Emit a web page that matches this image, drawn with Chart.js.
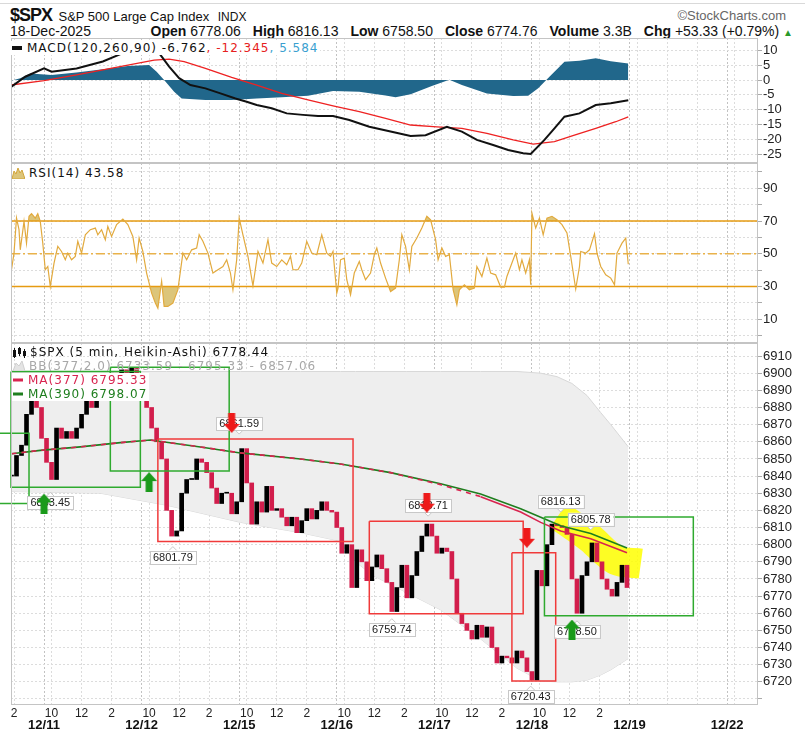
<!DOCTYPE html>
<html>
<head>
<meta charset="utf-8">
<title>$SPX S&amp;P 500 Large Cap Index</title>
<script src="https://cdn.jsdelivr.net/npm/chart.js@4.4.1/dist/chart.umd.min.js"></script>
<style>
  html, body { margin: 0; padding: 0; background: #fff; }
  body { position: relative; width: 805px; height: 732px; overflow: hidden; font-family: 'Liberation Sans', Arial, sans-serif; color: #111; }
  canvas { position: absolute; left: 0; }
  .abs { position: absolute; white-space: nowrap; }
  .leg { position: absolute; white-space: nowrap; font: 12px 'DejaVu Sans', sans-serif; letter-spacing: 1px; line-height: 14px; height: 14px; display: flex; align-items: center; }
  .leg svg { margin-right: 4px; }
  .topline { position: absolute; left: 0; top: 3px; width: 805px; border-top: 1px solid #d9d9d9; }
  .row2 .g { margin-left: 12px; }
</style>
</head>
<body>
<div class="topline"></div>

<!-- header -->
<div class="abs" style="left:10px;top:5px;line-height:19px;">
  <span style="font:bold 18px 'Liberation Sans',sans-serif;letter-spacing:-1px;">$SPX</span>
  <span style="font-size:13px;margin-left:2px;">S&amp;P 500 Large Cap Index</span>
  <span style="font-size:12px;margin-left:4px;">INDX</span>
</div>
<div class="abs" style="right:19px;top:8px;font-size:13px;color:#666;">&copy;StockCharts.com</div>
<div class="abs" style="left:10px;top:23px;font-size:14px;">18-Dec-2025</div>
<div class="abs row2" style="right:12px;top:23px;font-size:14px;">
  <span><b>Open</b> 6778.06</span><span class="g"><b>High</b> 6816.13</span><span class="g"><b>Low</b> 6758.50</span><span class="g"><b>Close</b> 6774.76</span><span class="g"><b>Volume</b> 3.3B</span><span class="g"><b>Chg</b> +53.33 (+0.79%)</span> <span style="color:#2a9a2a;font-size:10px;">&#9650;</span>
</div>

<canvas id="macd" width="805" height="125" style="top:38px"></canvas>
<canvas id="rsi" width="805" height="180" style="top:163px"></canvas>
<canvas id="price" width="805" height="389" style="top:343px"></canvas>

<!-- panel legends -->
<div class="leg" style="left:11px;top:41px;background:#fff;padding-right:2px;">
  <svg width="12" height="6"><rect x="1" y="1" width="10" height="4" fill="#111"/></svg>
  <span>MACD(120,260,90) -6.762</span><span style="color:#e62020">, -12.345</span><span style="color:#3a9fd0">, 5.584</span>
</div>
<div class="leg" style="left:12px;top:166px;background:#fff;padding-right:2px;">
  <svg width="13" height="11"><polygon points="0,11 2,3 4,6 6,0 8,5 10,2 13,11" fill="#dcc57a" stroke="#d3a53a" stroke-width="1"/></svg>
  <span>RSI(14) 43.58</span>
</div>
<div class="leg" style="left:13px;top:345px;">
  <svg width="13" height="11"><rect x="0" y="3" width="3" height="7" fill="#111"/><rect x="1" y="1" width="1" height="10" fill="#111"/><rect x="5" y="1" width="3" height="6" fill="#111"/><rect x="6" y="0" width="1" height="9" fill="#111"/><rect x="10" y="4" width="3" height="5" fill="#111"/><rect x="11" y="2" width="1" height="9" fill="#111"/></svg>
  <span>$SPX (5 min, Heikin-Ashi) 6778.44</span>
</div>
<div class="leg" style="left:13px;top:359px;color:#a8a8a8;">
  <svg width="12" height="10"><polygon points="0,10 3,2 6,5 9,0 12,10" fill="#e4e4e4" stroke="#cfcfcf" stroke-width="1"/></svg>
  <span>BB(377,2.0) 6733.59 - 6795.33 - 6857.06</span>
</div>
<div class="leg" style="left:12px;top:373px;background:#fff;color:#d8244f;padding-right:2px;">
  <svg width="12" height="6"><rect x="1" y="1.5" width="10" height="3" fill="#d8244f"/></svg>
  <span>MA(377) 6795.33</span>
</div>
<div class="leg" style="left:12px;top:387px;background:#fff;color:#1e7e1e;padding-right:2px;">
  <svg width="12" height="6"><rect x="1" y="1.5" width="10" height="3" fill="#1e7e1e"/></svg>
  <span>MA(390) 6798.07</span>
</div>

<script>
// ---- time axis (5-minute bars, 78 per session, 0 = 12/11 open) ----
const dayStarts = [-78, 0, 78, 156, 234, 312, 390, 468, 546];
const dayNames = ['12/10', '12/11', '12/12', '12/15', '12/16', '12/17', '12/18', '12/19', '12/22'];
const hourOffsets = [6, 30, 54];
const hourNames = ['10', '12', '2'];
const lastBar = 468;
const xMin = -26.4;
const xMax = 570.7;

// ---- price (Heikin-Ashi closes, every 4th bar) ----
const priceStart = -26;
const priceStep = 4;
const priceClose = [
  6840, 6852, 6858, 6876, 6893, 6880, 6862, 6848, 6838, 6868,
  6862, 6866, 6862, 6868, 6876, 6885, 6880, 6886, 6890, 6895,
  6900, 6898, 6902, 6899, 6903, 6897, 6893, 6880, 6868, 6860,
  6850, 6820, 6805, 6808, 6830, 6838, 6838, 6850, 6848, 6842,
  6833, 6824, 6830, 6830, 6818, 6825, 6856, 6836, 6812, 6825,
  6819, 6834, 6820, 6821, 6816, 6811, 6816, 6807, 6814, 6821,
  6815, 6820, 6825, 6820, 6819, 6810, 6795, 6800, 6775, 6797,
  6790, 6779, 6787, 6794, 6786, 6778, 6761, 6775, 6788, 6769,
  6782, 6796, 6805, 6812, 6805, 6795, 6798, 6796, 6780, 6760,
  6754, 6750, 6745, 6753, 6746, 6752, 6740, 6731, 6735, 6734,
  6731, 6738, 6734, 6726, 6721, 6785, 6776, 6800, 6812, 6811,
  6810, 6806, 6780, 6760, 6782, 6790, 6801, 6790, 6780, 6774,
  6770, 6778, 6788, 6775
];

// ---- overlays ----
const maX = [-26, -3, 29, 61, 85, 125, 157, 205, 237, 277, 317, 349, 381, 397, 413, 437, 466];
const ma377 = [6853, 6855, 6857, 6859.5, 6861, 6857, 6853.5, 6850, 6847, 6842, 6835, 6828, 6819, 6813, 6808, 6803.5, 6795.33];
const ma390 = [6853, 6855, 6857, 6859.5, 6861, 6857, 6853.5, 6850, 6847, 6842, 6835.5, 6829.5, 6821, 6816, 6811, 6806.5, 6798.07];
const maSplit = 349;

const bbX = [-26, 45, 98, 157, 205, 237, 249, 263, 290, 317, 349, 378, 397, 410, 422, 434, 445, 453, 467];
const bbUpper = [6900.5, 6901, 6901, 6901, 6901, 6901, 6901, 6901, 6901, 6901, 6901, 6901, 6900, 6898, 6894, 6887, 6877, 6870, 6857.06];
const bbLower = [6831, 6830, 6823, 6813, 6807, 6802, 6790, 6782, 6772, 6762, 6745, 6728, 6720.5, 6720, 6720, 6721, 6724, 6727, 6733.59];

const highlightX = [411, 425, 437, 457, 477];
const highlightY = [6817, 6810, 6803.5, 6791, 6789];

const greenBoxLeft = [-40, -26.4, 53, 400];
const greenBoxRight = [-12, 77, 148, 519];
const greenBoxTop = [6865, 6901, 6903.5, 6816.13];
const greenBoxBottom = [6824, 6833.45, 6843, 6758.5];
const redBoxLeft = [91, 260, 374];
const redBoxRight = [247, 383, 409];
const redBoxTop = [6861.59, 6813.71, 6795.3];
const redBoxBottom = [6801.79, 6759.74, 6720.43];

const upArrowX = [0, 84, 422];
const upArrowY = [6824, 6836.5, 6750.5];
const downArrowX = [150, 306, 386];
const downArrowY = [6871, 6824.5, 6804];

const markX = [5, 156, 103, 307, 278, 389, 413, 437, 426];
const markPrice = [6833.45, 6861.59, 6801.79, 6813.71, 6759.74, 6720.43, 6816.13, 6805.78, 6758.50];
const markText = ['6833.45', '6861.59', '6801.79', '6813.71', '6759.74', '6720.43', '6816.13', '6805.78', '6758.50'];
const markBelow = [true, false, true, false, true, true, false, false, true];

// ---- MACD(120,260,90) ----
const macdX = [-27, -15, 0, 6, 26, 47, 63, 76, 92, 100, 108, 117, 129, 141, 153, 162, 170, 182, 194, 207, 219, 231, 244, 260, 277, 293, 305, 322, 334, 346, 359, 371, 383, 389, 400, 408, 416, 428, 441, 453, 467];
const macdLine = [-2.5, 1.1, 3.9, 2.8, 3.9, 6.2, 9.0, 11.5, 9.0, 4.5, 0.6, -1.7, -2.8, -4.5, -6.2, -7.3, -8.4, -9.5, -11.2, -11.7, -12.1, -12.1, -13.4, -15.7, -17.3, -18.8, -18.5, -15.7, -17.3, -20.1, -21.8, -23.5, -24.6, -24.8, -20.1, -16.2, -12.3, -11.2, -8.4, -7.8, -6.762];
const signalX = [-27, 0, 26, 47, 67, 88, 100, 112, 129, 150, 170, 190, 211, 231, 252, 273, 293, 314, 334, 354, 375, 391, 408, 424, 441, 457, 467];
const signalLine = [-1.7, -0.2, 1.7, 3.4, 5.0, 6.7, 7.0, 6.2, 3.9, 0.9, -1.7, -4.5, -6.7, -8.7, -10.6, -12.9, -15.1, -15.7, -16.2, -17.9, -20.1, -21.5, -20.7, -18.5, -16.2, -14.0, -12.345];
const histX = [-27, -19, -11, 6, 26, 47, 67, 84, 90, 96, 104, 110, 129, 150, 170, 190, 211, 231, 252, 273, 281, 293, 310, 324, 334, 354, 375, 387, 395, 404, 416, 428, 441, 453, 467];
const histValues = [-0.3, 0.6, 2.2, 1.7, 2.5, 3.6, 4.7, 5.0, 2.8, 0, -3.9, -6.2, -6.7, -6.7, -6.2, -5.8, -5.3, -3.7, -3.9, -5.2, -5.8, -4.8, -2.0, 0.1, -1.7, -4.5, -5.4, -5.3, -2.8, 1.1, 6.1, 6.5, 7.3, 6.3, 5.584];
const macdTicks = [-25, -20, -15, -10, -5, 0, 5, 10];

// ---- RSI(14) ----
const rsiX = [
  -26, -24, -22, -20, -19, -16, -14, -12, -10, -7,
  -5, -3, -1, 1, 3, 5, 8, 11, 14, 17,
  19, 22, 25, 27, 30, 33, 37, 41, 43, 46,
  49, 51, 54, 58, 63, 67, 71, 74, 76, 79,
  82, 86, 89, 91, 94, 96, 99, 103, 107, 111,
  114, 118, 122, 124, 127, 131, 135, 139, 143, 146,
  149, 151, 154, 156, 159, 163, 167, 171, 175, 179,
  182, 186, 190, 194, 197, 199, 203, 206, 210, 214,
  218, 222, 226, 229, 231, 234, 235, 237, 240, 242,
  245, 248, 252, 254, 257, 261, 264, 266, 269, 273,
  277, 281, 284, 286, 289, 292, 294, 298, 302, 306,
  309, 313, 315, 318, 321, 324, 327, 330, 332, 336,
  340, 344, 346, 350, 354, 357, 361, 365, 368, 370,
  374, 377, 380, 382, 385, 388, 389, 390, 393, 396,
  399, 402, 406, 410, 414, 418, 421, 425, 428, 429,
  433, 436, 440, 442, 445, 449, 453, 456, 458, 462,
  465, 467
];
const rsiValues = [
  40.2, 50.4, 71.8, 64.7, 52.4, 69.8, 56.5, 72.9, 74.5, 71.8,
  74.5, 69.8, 56.5, 40.2, 42.2, 30.0, 44.3, 54.5, 51.4, 46.3,
  50.4, 46.3, 48.4, 57.6, 50.4, 61.6, 64.7, 65.7, 61.6, 64.7,
  58.6, 66.7, 60.6, 67.8, 71.2, 67.8, 60.6, 46.3, 59.6, 51.4,
  38.2, 25.9, 19.8, 16.7, 33.1, 17.8, 17.8, 19.8, 28.0, 50.4,
  46.3, 52.4, 53.5, 61.6, 57.6, 50.4, 38.2, 40.2, 42.2, 46.3,
  38.2, 28.0, 46.3, 71.8, 61.6, 48.4, 30.4, 51.4, 44.3, 58.6,
  44.3, 42.2, 46.3, 43.3, 48.4, 40.2, 40.2, 44.3, 57.6, 50.4,
  49.4, 61.6, 50.4, 48.4, 51.4, 25.9, 29.0, 46.3, 47.3, 34.1,
  24.9, 38.2, 45.3, 40.2, 34.1, 38.2, 49.4, 53.5, 44.3, 35.1,
  26.9, 29.0, 46.3, 61.6, 54.5, 40.2, 54.5, 59.6, 65.7, 72.9,
  70.8, 58.6, 46.3, 53.5, 48.4, 49.4, 28.0, 18.8, 28.0, 31.0,
  28.0, 29.0, 42.2, 36.1, 47.3, 38.2, 37.1, 29.6, 29.6, 36.1,
  44.3, 50.4, 40.2, 46.3, 38.2, 46.3, 31.0, 74.9, 65.7, 71.8,
  61.6, 71.8, 72.9, 70.8, 67.8, 62.7, 48.4, 28.4, 42.2, 51.4,
  50.4, 52.4, 62.2, 50.4, 42.2, 37.1, 35.1, 31.0, 50.4, 56.5,
  59.6, 43.58
];
const rsiLevels = [70, 50, 30];
const rsiTicks = [0, 10, 20, 30, 40, 50, 60, 70, 80, 90, 100];
const rsiLabels = [10, 30, 50, 70, 90];

// ---- price axis ----
const priceTicks = [6710, 6720, 6730, 6740, 6750, 6760, 6770, 6780, 6790, 6800, 6810,
                    6820, 6830, 6840, 6850, 6860, 6870, 6880, 6890, 6900, 6910];
const priceHidden = [6710];

// ---- look ----
const gridColor = '#dcdcdc';
const dayColor = '#c2c2c2';
const upColor = '#000000';
const downColor = '#d21e4c';
const khaki = '#dcc57a';
const plotLeft = 11;
const axisWidth = 47;

Chart.defaults.font.family = "'Liberation Sans', Arial, sans-serif";

const pts = (xs, ys) => xs.map((x, i) => ({ x: x, y: ys[i] }));

function xTickValues() {
    const t = [];
    dayStarts.forEach(d => {
        t.push(d);
        hourOffsets.forEach(h => t.push(d + h));
    });
    return t.filter(v => v >= xMin && v <= xMax);
}

function hourLabel(v) {
    if (v >= lastBar) return '';
    for (let i = 0; i < dayStarts.length; i++) {
        const k = hourOffsets.indexOf(v - dayStarts[i]);
        if (k >= 0) return hourNames[k];
    }
    return '';
}

// no extra room for overflowing labels: plot areas must line up exactly
function noPadding(s) {
    s.paddingTop = 0;
    s.paddingBottom = 0;
    s.paddingLeft = 0;
    s.paddingRight = 0;
}

function xAxis(withLabels) {
    return {
        type: 'linear', min: xMin, max: xMax, offset: false,
        afterBuildTicks: s => { s.ticks = xTickValues().map(v => ({ value: v })); },
        grid: { drawTicks: false, offset: false, color: c => (c.tick && dayStarts.includes(c.tick.value)) ? dayColor : gridColor },
        border: { display: false, dash: [2, 2] },
        ticks: { display: withLabels, autoSkip: false, maxRotation: 0, padding: 1, color: '#222', font: { size: 12 }, callback: v => hourLabel(v) },
        afterFit: s => { s.height = withLabels ? 12 : 0; noPadding(s); }
    };
}

function dateAxis() {
    return {
        type: 'linear', position: 'bottom', min: xMin, max: xMax, offset: false,
        afterBuildTicks: s => { s.ticks = dayStarts.filter(v => v >= xMin && v <= xMax).map(v => ({ value: v })); },
        grid: { display: false, drawTicks: false },
        border: { display: false },
        ticks: { autoSkip: false, maxRotation: 0, padding: 1, color: '#111', font: { size: 13, weight: 'bold' }, callback: v => dayNames[dayStarts.indexOf(v)] },
        afterFit: s => { s.height = 15; noPadding(s); }
    };
}

function yAxis(min, max, tickValues, labelFn) {
    return {
        position: 'right', min: min, max: max,
        afterBuildTicks: s => { s.ticks = tickValues.map(v => ({ value: v })); },
        grid: { color: gridColor, tickLength: 4, tickColor: '#aaa' },
        border: { display: false, dash: [2, 2] },
        ticks: { autoSkip: false, padding: 1, color: '#222', font: { size: 13 }, callback: labelFn },
        afterFit: s => { s.width = axisWidth; noPadding(s); }
    };
}

function baseOptions(scales) {
    return {
        responsive: false, animation: false, devicePixelRatio: 1, events: [],
        layout: { autoPadding: false, padding: { left: plotLeft, right: 0, top: 0, bottom: 0 } },
        plugins: { legend: { display: false }, tooltip: { enabled: false } },
        elements: { point: { radius: 0 }, line: { tension: 0 } },
        scales: scales
    };
}

// Panel frame round each plot area
const framePlugin = {
    id: 'frame',
    afterDraw(chart) {
        const { ctx, chartArea: a } = chart;
        ctx.save();
        ctx.strokeStyle = '#c4c4c4';
        ctx.lineWidth = 1;
        ctx.strokeRect(a.left + 0.5, a.top + 0.5, a.right - a.left - 1, a.bottom - a.top - 1);
        ctx.restore();
    }
};

// Value tags at swing highs/lows, drawn just before the arrows
const markPlugin = {
    id: 'marks',
    beforeDatasetsDraw(chart) { chart.$marksDone = false; },
    beforeDatasetDraw(chart, args) {
        const ds = chart.data.datasets[args.index];
        if (!ds.isArrow || chart.$marksDone) return;
        chart.$marksDone = true;
        const { ctx, scales: { x, y } } = chart;
        ctx.save();
        ctx.font = "11px 'Liberation Sans', Arial, sans-serif";
        ctx.textAlign = 'center';
        ctx.textBaseline = 'middle';
        markText.forEach((t, i) => {
            const px = x.getPixelForValue(markX[i]);
            const py = y.getPixelForValue(markPrice[i]);
            const w = ctx.measureText(t).width + 6;
            const h = 13;
            const cy = markBelow[i] ? py + 9 + h / 2 : py - 9 - h / 2;
            // small pointer
            ctx.fillStyle = '#fff';
            ctx.strokeStyle = '#c8c8c8';
            ctx.beginPath();
            const ty = markBelow[i] ? cy - h / 2 : cy + h / 2;
            const tip = markBelow[i] ? ty - 4 : ty + 4;
            ctx.moveTo(px - 4, ty); ctx.lineTo(px, tip); ctx.lineTo(px + 4, ty);
            ctx.fill(); ctx.stroke();
            ctx.fillRect(px - w / 2, cy - h / 2, w, h);
            ctx.strokeRect(Math.round(px - w / 2) + 0.5, Math.round(cy - h / 2) + 0.5, Math.round(w), h);
            ctx.fillStyle = '#222';
            ctx.fillText(t, px, cy + 0.5);
        });
        ctx.restore();
    }
};

function makeArrow(color, pointingUp) {
    const c = document.createElement('canvas');
    c.width = 16;
    c.height = 20;
    const g = c.getContext('2d');
    g.fillStyle = color;
    g.beginPath();
    [[8, 0], [16, 9], [11.5, 9], [11.5, 20], [4.5, 20], [4.5, 9], [0, 9]].forEach(([px, py], k) => {
        const yy = pointingUp ? py : 20 - py;
        if (k) g.lineTo(px, yy); else g.moveTo(px, yy);
    });
    g.closePath();
    g.fill();
    return c;
}

function boxPath(x1, x2, top, bottom) {
    return [{ x: x1, y: top }, { x: x2, y: top }, { x: x2, y: bottom }, { x: x1, y: bottom }, { x: x1, y: top }];
}

// ---- MACD panel ----
new Chart(document.getElementById('macd'), {
    type: 'line',
    data: {
        datasets: [
            { data: pts(histX, histValues), borderWidth: 0, borderColor: 'rgba(0,0,0,0)', backgroundColor: '#21678b', fill: 'origin', order: 3 },
            { data: pts(signalX, signalLine), borderColor: '#ee2222', borderWidth: 1.3, fill: false, order: 2 },
            { data: pts(macdX, macdLine), borderColor: '#111111', borderWidth: 2, fill: false, order: 1 }
        ]
    },
    options: baseOptions({ x: xAxis(false), y: yAxis(-27.85, 14.1, macdTicks, v => v) }),
    plugins: [framePlugin]
});

// ---- RSI panel ----
const rsiPoints = pts(rsiX, rsiValues);
new Chart(document.getElementById('rsi'), {
    type: 'line',
    data: {
        datasets: [
            { data: rsiPoints, borderWidth: 0, borderColor: 'rgba(0,0,0,0)', fill: { target: { value: 70 }, above: khaki, below: 'rgba(0,0,0,0)' }, order: 5 },
            { data: rsiPoints, borderWidth: 0, borderColor: 'rgba(0,0,0,0)', fill: { target: { value: 30 }, above: 'rgba(0,0,0,0)', below: khaki }, order: 5 },
            { data: pts([xMin, xMax], [rsiLevels[0], rsiLevels[0]]), borderColor: '#e69b12', borderWidth: 1.5, order: 3 },
            { data: pts([xMin, xMax], [rsiLevels[1], rsiLevels[1]]), borderColor: '#e9b24a', borderWidth: 1.3, borderDash: [9, 3, 2, 3], order: 3 },
            { data: pts([xMin, xMax], [rsiLevels[2], rsiLevels[2]]), borderColor: '#e69b12', borderWidth: 1.5, order: 3 },
            { data: rsiPoints, borderColor: '#e2aa3e', borderWidth: 1.2, fill: false, order: 1 }
        ]
    },
    options: baseOptions({ x: xAxis(false), y: yAxis(-4.6, 105.5, rsiTicks, v => rsiLabels.includes(Math.round(v)) ? Math.round(v) : '') }),
    plugins: [framePlugin]
});

// ---- price panel ----
const candleData = priceClose.map((c, i) => ({ x: priceStart + i * priceStep, y: [i ? priceClose[i - 1] : c, c] }));
const candleColors = priceClose.map((c, i) => (i && c < priceClose[i - 1]) ? downColor : upColor);

const boxSets = [];
greenBoxLeft.forEach((x1, i) => {
    boxSets.push({ data: boxPath(x1, greenBoxRight[i], greenBoxTop[i], greenBoxBottom[i]), borderColor: '#2faa2f', borderWidth: 1.5, fill: false, clip: false, order: 5 });
});
redBoxLeft.forEach((x1, i) => {
    boxSets.push({ data: boxPath(x1, redBoxRight[i], redBoxTop[i], redBoxBottom[i]), borderColor: '#f03a3a', borderWidth: 1.5, fill: false, clip: false, order: 5 });
});

const greenArrow = makeArrow('#1a9a1a', true);
const redArrow = makeArrow('#ee1a1a', false);

new Chart(document.getElementById('price'), {
    type: 'line',
    data: {
        datasets: [
            { data: pts(bbX, bbUpper), borderColor: '#d8d8d8', borderWidth: 1, backgroundColor: '#eeeeee', fill: '+1', order: 20 },
            { data: pts(bbX, bbLower), borderColor: '#d8d8d8', borderWidth: 1, fill: false, order: 20 },
            { data: pts(highlightX, highlightY), borderColor: 'rgba(255,255,0,0.85)', borderWidth: 30, borderCapStyle: 'butt', borderJoinStyle: 'round', tension: 0.3, fill: false, order: 15 },
            { type: 'bar', data: candleData, backgroundColor: candleColors, borderWidth: 0, barThickness: 4, minBarLength: 1, grouped: false, order: 10 },
            { data: pts(maX, ma390), borderColor: '#1e7e1e', borderWidth: 1.6, fill: false, order: 8 },
            {
                data: pts(maX, ma377), borderColor: '#d8244f', borderWidth: 1.6, fill: false, order: 7,
                segment: { borderDash: c => c.p0.parsed.x < maSplit ? [5, 5] : [] }
            },
            ...boxSets,
            { data: pts(upArrowX, upArrowY), isArrow: true, showLine: false, pointStyle: greenArrow, pointRadius: 10, order: 1 },
            { data: pts(downArrowX, downArrowY), isArrow: true, showLine: false, pointStyle: redArrow, pointRadius: 10, order: 1 }
        ]
    },
    options: baseOptions({
        x: xAxis(true),
        xd: dateAxis(),
        y: yAxis(6706.5, 6917.6, priceTicks, v => priceHidden.includes(v) ? '' : v)
    }),
    plugins: [framePlugin, markPlugin]
});
</script>
</body>
</html>
